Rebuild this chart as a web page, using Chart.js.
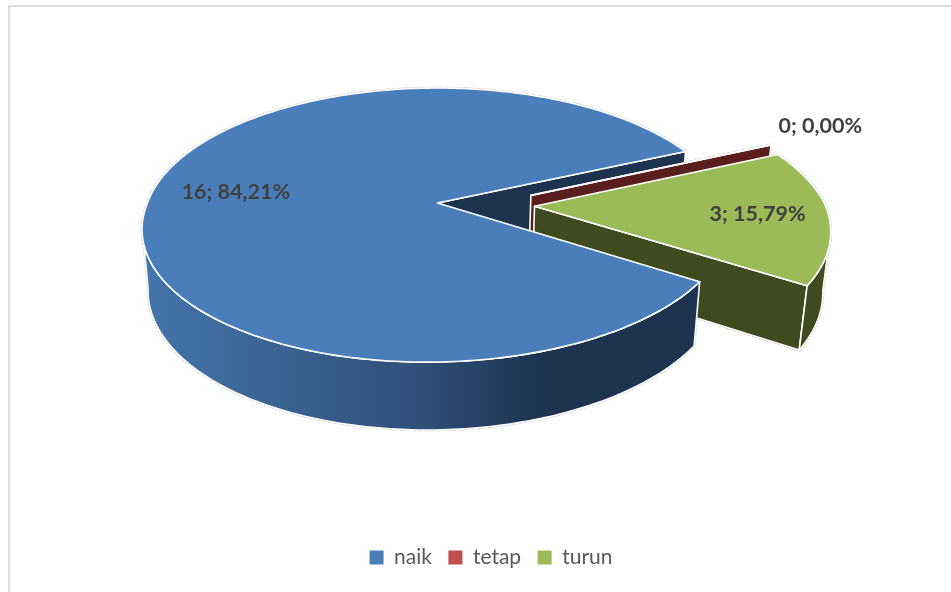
<!DOCTYPE html>
<html>
<head>
<meta charset="utf-8">
<script src="https://cdn.jsdelivr.net/npm/chart.js@4"></script>
<style>
  html, body { margin: 0; padding: 0; background: #fff; }
  canvas { display: block; }
</style>
</head>
<body>
<canvas id="pieChart" width="951" height="592"></canvas>
<script>
const categories = ['naik', 'tetap', 'turun'];
const seriesValues = [16, 0, 3];

const topColors = ['#4a7ebb', '#c0504d', '#9bbb59'];
const wallColors = ['#1d3350', '#5a1e1e', '#3f4a1f'];

// the flat pie from chart.js gets laid onto a tilted disc, same look as excel 3d pie
const view = { cx: 437.5, cy: 203, a: 290, b: 133.5, depth: 61.5, persp: 0.161, persp2: 0.02, skew: 9 };

const project = (u, v, z) => {
    const w = 1 - view.persp * v + view.persp2 * z;
    return [view.cx + (view.a * u - view.skew * Math.max(v, 0)) / w, view.cy + (view.b * v + view.depth * z) / w];
};

const tracePath = (ctx, pts) => {
    ctx.beginPath();
    pts.forEach((p, i) => i ? ctx.lineTo(p[0], p[1]) : ctx.moveTo(p[0], p[1]));
    ctx.closePath();
};

const pie3d = {
    id: 'pie3d',
    beforeDraw(chart) {
        // frame of the pasted chart, only top and left are in the picture
        const ctx = chart.ctx;
        ctx.fillStyle = '#dddddd';
        ctx.fillRect(8, 5, 943, 2);
        ctx.fillRect(8, 5, 2, 587);
    },
    beforeDatasetsDraw(chart, args, opts) {
        const ctx = chart.ctx;
        const arcs = chart.getDatasetMeta(0).data;

        const slices = arcs.map((arc, i) => {
            let mid = (arc.startAngle + arc.endAngle) / 2;
            // a zero slice has no middle of its own, lean it to the next one
            if (arc.endAngle - arc.startAngle < 1e-6 && arcs[i + 1]) {
                mid = (mid + (arcs[i + 1].startAngle + arcs[i + 1].endAngle) / 2) / 2;
            }
            const shift = arc.options.offset / arc.outerRadius;
            const ox = Math.cos(mid) * shift;
            const oy = Math.sin(mid) * shift;
            const at = (t, r, z) => project(ox + Math.cos(t) * r, oy + Math.sin(t) * r, z);

            const rim = [];
            const steps = Math.max(1, Math.ceil((arc.endAngle - arc.startAngle) / (Math.PI / 180)));
            for (let s = 0; s <= steps; s++) {
                rim.push(arc.startAngle + (arc.endAngle - arc.startAngle) * s / steps);
            }
            // outer wall only where the rim turns to the viewer
            const front = rim.filter(t => Math.sin(t) >= view.persp);

            return {
                i, arc, ox, oy, exploded: arc.options.offset > 0,
                top: [at(0, 0, 0)].concat(rim.map(t => at(t, 1, 0))),
                wall: front.map(t => at(t, 1, 0)).concat(front.slice().reverse().map(t => at(t, 1, 1))),
                inner: [at(0, 0, 0), at(arc.endAngle, 1, 0), at(arc.endAngle, 1, 1), at(0, 0, 1)],
                gradient: i === 0
            };
        });

        const wallFill = s => {
            if (!s.gradient) return wallColors[s.i];
            const g = ctx.createLinearGradient(142, 0, 696, 0);
            g.addColorStop(0, '#4575ab');
            g.addColorStop(0.5, '#2f5079');
            g.addColorStop(0.72, '#1d3350');
            g.addColorStop(1, '#1d3350');
            return g;
        };

        const paint = (pts, fill) => {
            tracePath(ctx, pts);
            ctx.fillStyle = fill;
            ctx.fill();
        };
        const edge = (pts, color, width) => {
            tracePath(ctx, pts);
            ctx.strokeStyle = color;
            ctx.lineWidth = width;
            ctx.stroke();
        };

        ctx.save();
        ctx.lineJoin = 'round';

        // grey edge first so it never lands on another slice
        ctx.setLineDash([2, 1]);
        slices.forEach(s => {
            edge(s.top, '#bdbdbd', 2.6);
            if (s.wall.length) edge(s.wall, '#bdbdbd', 2.6);
            edge(s.inner, '#bdbdbd', 2.6);
        });
        ctx.setLineDash([]);

        const fixed = slices.filter(s => !s.exploded);
        const moved = slices.filter(s => s.exploded);

        fixed.forEach(s => {
            paint(s.inner, wallColors[s.i]);
            edge(s.inner, '#ffffff', 1.6);
        });
        moved.forEach(s => {
            paint(s.inner, wallColors[s.i]);
            edge(s.inner, '#ffffff', 1.6);
            if (s.wall.length) {
                paint(s.wall, wallFill(s));
                edge(s.wall, '#ffffff', 1.6);
            }
            paint(s.top, topColors[s.i]);
            edge(s.top, '#ffffff', 1.6);
        });
        fixed.forEach(s => {
            if (s.wall.length) {
                paint(s.wall, wallFill(s));
                edge(s.wall, '#ffffff', 1.6);
            }
            paint(s.top, topColors[s.i]);
            edge(s.top, '#ffffff', 1.6);
        });

        // data labels: value; percent with a comma
        const total = seriesValues.reduce((a, b) => a + b, 0);
        ctx.font = 'bold 21.5px Lato';
        ctx.fillStyle = '#404040';
        ctx.textAlign = 'center';
        ctx.textBaseline = 'middle';
        slices.forEach(s => {
            const arc = s.arc;
            const mid = (arc.startAngle + arc.endAngle) / 2 + opts.labelTurn[s.i];
            const r = opts.labelRadius[s.i];
            const p = project(s.ox + Math.cos(mid) * r, s.oy + Math.sin(mid) * r, 0);
            const pct = (seriesValues[s.i] / total * 100).toFixed(2).replace('.', ',');
            ctx.fillText(seriesValues[s.i] + '; ' + pct + '%', p[0], p[1]);
        });
        ctx.restore();
        return false;
    }
};

const pieChart = new Chart(document.getElementById('pieChart'), {
    type: 'pie',
    data: {
        labels: categories,
        datasets: [{
            data: seriesValues,
            backgroundColor: topColors,
            borderWidth: 0,
            offset: [0, 66, 67]
        }]
    },
    options: {
        responsive: false,
        animation: false,
        rotation: 122.6,
        radius: 200,
        layout: { padding: { left: 31, bottom: 14 } },
        plugins: {
            pie3d: { labelRadius: [0.709, 1.27, 0.76], labelTurn: [0.042, -0.05, 0] },
            tooltip: { enabled: false },
            legend: {
                position: 'bottom',
                labels: {
                    boxWidth: 14,
                    boxHeight: 14,
                    padding: 16.5,
                    color: '#595959',
                    font: { family: 'Lato', size: 21 }
                }
            }
        }
    },
    plugins: [pie3d]
});
</script>
</body>
</html>
